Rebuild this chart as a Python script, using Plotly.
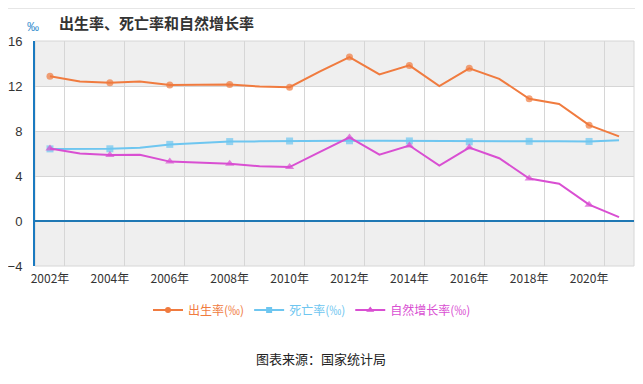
import plotly.graph_objects as go

years = [2002, 2003, 2004, 2005, 2006, 2007, 2008, 2009, 2010, 2011,
         2012, 2013, 2014, 2015, 2016, 2017, 2018, 2019, 2020, 2021]
birth_rate = [12.86, 12.41, 12.29, 12.40, 12.09, 12.10, 12.14, 11.95, 11.90, 13.27,
              14.57, 13.03, 13.83, 11.99, 13.57, 12.64, 10.86, 10.41, 8.52, 7.52]
death_rate = [6.41, 6.40, 6.42, 6.51, 6.81, 6.93, 7.06, 7.08, 7.11, 7.14,
              7.13, 7.13, 7.12, 7.07, 7.04, 7.06, 7.08, 7.09, 7.07, 7.18]
natural_rate = [6.45, 6.01, 5.87, 5.89, 5.28, 5.17, 5.08, 4.87, 4.79, 6.13,
                7.43, 5.90, 6.71, 4.93, 6.53, 5.58, 3.78, 3.32, 1.45, 0.34]
series_names = ["出生率(‰)", "死亡率(‰)", "自然增长率(‰)"]
x_tick_years = [2002, 2004, 2006, 2008, 2010, 2012, 2014, 2016, 2018, 2020]
x_tick_labels = [f"{y}年" for y in x_tick_years]
y_ticks = [-4, 0, 4, 8, 12, 16]

colors = ["#f07b3f", "#6ec6f0", "#d94fd2"]
symbols = ["circle", "square", "triangle-up"]
msizes = [7, 7, 8]
FONT = "Liberation Sans, Noto Sans CJK SC, sans-serif"
CJK = "Noto Sans CJK SC, sans-serif"

# page body has an 8px margin: size the figure to fill the rest of the window
OFF = 8
W, H = 643 - OFF, 384 - OFF
ML, MR, MT, MB = 35 - OFF, 9, 41 - OFF, 118
PW, PH = W - ML - MR, H - MT - MB


def px(X):  # window x -> paper x
    return (X - OFF - ML) / PW


def py(Y):  # window y -> paper y
    return (MT + PH - (Y - OFF)) / PH


fig = go.Figure()
for name, vals, c, s, ms in zip(series_names, [birth_rate, death_rate, natural_rate],
                                colors, symbols, msizes):
    sizes = [ms if y % 2 == 0 else 0 for y in years]
    fig.add_trace(go.Scatter(x=years, y=vals, mode="lines+markers", name=name,
                             line=dict(color=c, width=2),
                             marker=dict(symbol=s, size=sizes, color=c, line=dict(width=0)),
                             showlegend=False))
for name, c, s, ms in zip(series_names, colors, symbols, msizes):
    fig.add_trace(go.Scatter(x=[None], y=[None], mode="lines+markers",
                             name=f'<span style="color:{c}">{name}</span>',
                             line=dict(color=c, width=2),
                             marker=dict(symbol=s, size=ms - 1, color=c)))

shapes = []
for i in range(len(y_ticks) - 1):
    if i % 2 == 0:
        shapes.append(dict(type="rect", xref="paper", yref="y", x0=0, x1=1,
                           y0=y_ticks[i], y1=y_ticks[i + 1], fillcolor="#efefef",
                           line=dict(width=0), layer="below"))
shapes.append(dict(type="rect", xref="paper", yref="paper", x0=0, x1=1, y0=0, y1=1,
                   line=dict(color="#d6d6d6", width=1), layer="below"))
shapes.append(dict(type="line", xref="paper", yref="paper", x0=px(8), x1=px(643),
                   y0=py(8.5), y1=py(8.5), line=dict(color="#e6e6e6", width=1)))
shapes.append(dict(type="line", xref="paper", yref="y", x0=0, x1=1, y0=0, y1=0,
                   line=dict(color="#1f78b4", width=2), layer="above"))

fig.update_layout(
    width=W, height=H, autosize=False,
    margin=dict(l=ML, r=MR, t=MT, b=MB),
    paper_bgcolor="white", plot_bgcolor="white",
    font=dict(family=FONT, size=12, color="#333"),
    shapes=shapes,
    xaxis=dict(range=[2001.5, 2021.5], tickmode="array", tickvals=x_tick_years,
               ticktext=x_tick_labels, showgrid=False, zeroline=False, automargin=False,
               showline=False, ticks="", ticklabelstandoff=4,
               tickfont=dict(size=12, color="#333", family=CJK),
               minor=dict(tickmode="array", tickvals=[y + 0.5 for y in x_tick_years],
                          showgrid=True, gridcolor="#d6d6d6", gridwidth=1, ticks="")),
    yaxis=dict(range=[-4, 16], tickmode="array", tickvals=y_ticks, automargin=False,
               showgrid=True, gridcolor="#d6d6d6", gridwidth=1, zeroline=False,
               showline=True, linecolor="#1a7ac0", linewidth=2,
               ticks="", ticklabelstandoff=8, tickfont=dict(size=13, color="#333")),
    legend=dict(orientation="h", xref="container", yref="container",
                x=(312 - OFF) / W, y=1 - (310 - OFF) / H, xanchor="center", yanchor="middle",
                font=dict(size=12, family=CJK), itemwidth=30, tracegroupgap=0,
                bgcolor="rgba(0,0,0,0)"),
    annotations=[
        dict(text="‰", xref="paper", yref="paper", x=px(33), y=py(27),
             showarrow=False, xanchor="center", yanchor="middle",
             font=dict(size=12, color="#3a8fd0", family=FONT)),
        dict(text="<b>出生率、死亡率和自然增长率</b>", xref="paper", yref="paper",
             x=px(57), y=py(23), showarrow=False,
             xanchor="left", yanchor="middle",
             font=dict(size=15, color="#333", family=CJK)),
        dict(text="图表来源：国家统计局", xref="paper", yref="paper",
             x=px(321), y=py(358), showarrow=False,
             xanchor="center", yanchor="middle",
             font=dict(size=13, color="#222", family=CJK)),
    ],
)

fig.write_html("out.html")
